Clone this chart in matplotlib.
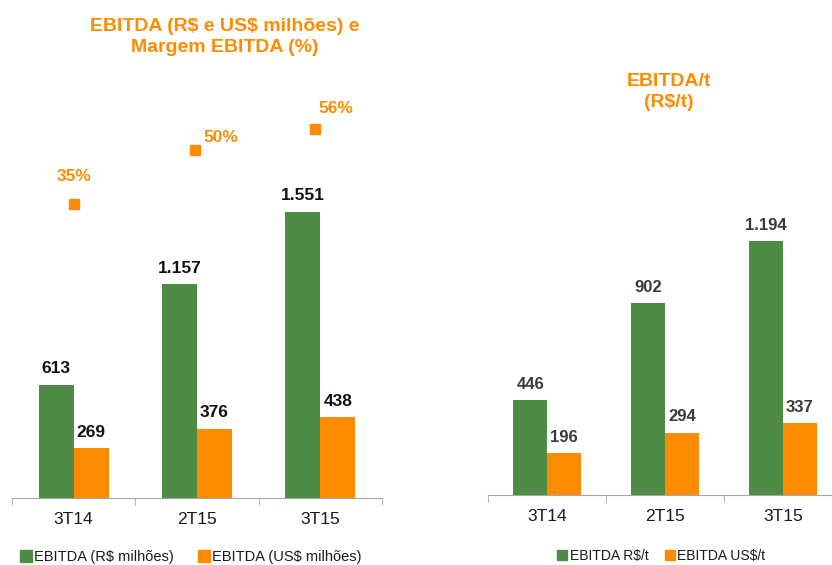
import matplotlib.pyplot as plt
from matplotlib.patches import Patch
import numpy as np

plt.rcParams['font.family'] = ['Liberation Sans', 'DejaVu Sans']
plt.rcParams['text.parse_math'] = False

# Data
quarters = ["3T14", "2T15", "3T15"]
ebitda_brl = [613, 1157, 1551]
ebitda_usd = [269, 376, 438]
margin_pct = [35, 50, 56]
ebitda_brl_t = [446, 902, 1194]
ebitda_usd_t = [196, 294, 337]

GREEN = "#4E8C46"
ORANGE = "#FF8C00"
AXIS = "#A6A6A6"
W, H = 832, 565


def fmt(v):
    return "{:,}".format(v).replace(",", ".")


def style_axis(ax):
    for s in ["left", "right", "top"]:
        ax.spines[s].set_visible(False)
    ax.spines["bottom"].set_color(AXIS)
    ax.set_yticks([])
    ax.set_xticks(range(len(quarters)))
    ax.set_xticklabels(quarters, fontsize=12.5, color="#1a1a1a")
    ax.tick_params(axis="x", which="major", length=0, pad=10)
    ax.set_xticks([-0.5, 0.5, 1.5, 2.5], minor=True)
    ax.tick_params(axis="x", which="minor", length=5, color=AXIS, direction="out")
    ax.set_xlim(-0.5, 2.5)


fig = plt.figure(figsize=(W / 100, H / 100), dpi=100)

# Left chart
ax1 = fig.add_axes([12 / W, 1 - 498 / H, 370 / W, 408 / H])
x = np.arange(len(quarters))
bw = 0.285
b1 = ax1.bar(x - bw / 2, ebitda_brl, bw, color=GREEN)
b2 = ax1.bar(x + bw / 2, ebitda_usd, bw, color=ORANGE)
ax1.set_ylim(0, 2211)
style_axis(ax1)
for bars in (b1, b2):
    for r in bars:
        ax1.annotate(fmt(int(r.get_height())), (r.get_x() + r.get_width() / 2, r.get_height()),
                     xytext=(0, 11.5), textcoords="offset points", ha="center", va="center",
                     fontsize=12.5, fontweight="bold", color="#111111")

ax1b = ax1.twinx()
ax1b.set_ylim(-48, 67)
ax1b.axis("off")
ax1b.plot(x - 0.02 * x, margin_pct, linestyle="none", marker="s", markersize=7.2, color=ORANGE)
offsets = [(0, 19.5, "center"), (6.5, 9.5, "left"), (2, 14.5, "left")]
for xi, v, (dx, dy, ha) in zip(x - 0.02 * x, margin_pct, offsets):
    ax1b.annotate(f"{v}%", (xi, v), xytext=(dx, dy), textcoords="offset points",
                  ha=ha, va="center", fontsize=12.5, fontweight="bold", color=ORANGE)

fig.text(225 / W, 1 - 37 / H, "EBITDA (R$ e US$ milhões) e\nMargem EBITDA (%)",
         ha="center", va="center", fontsize=14, fontweight="bold", color=ORANGE,
         linespacing=1.3)

fig.legend(handles=[Patch(color=GREEN, label="EBITDA (R$ milhões)"),
                    Patch(color=ORANGE, label="EBITDA (US$ milhões)")],
           loc="center left", bbox_to_anchor=(20 / W, 1 - 557 / H), ncol=2, frameon=False,
           fontsize=10.5, handlelength=0.8, handleheight=0.8, handletextpad=0.15,
           columnspacing=1.7, borderpad=0, borderaxespad=0, labelcolor="#1a1a1a")

# Right chart
ax2 = fig.add_axes([488 / W, 1 - 495 / H, 354 / W, 295 / H])
bw2 = 0.285
c1 = ax2.bar(x - bw2 / 2, ebitda_brl_t, bw2, color=GREEN)
c2 = ax2.bar(x + bw2 / 2, ebitda_usd_t, bw2, color=ORANGE)
ax2.set_ylim(0, 1388)
style_axis(ax2)
for bars in (c1, c2):
    for r in bars:
        ax2.annotate(fmt(int(r.get_height())), (r.get_x() + r.get_width() / 2, r.get_height()),
                     xytext=(0, 11.5), textcoords="offset points", ha="center", va="center",
                     fontsize=12, fontweight="bold", color="#3a3a3a")

fig.text(669 / W, 1 - 92 / H, "EBITDA/t\n(R$/t)", ha="center", va="center",
         fontsize=14, fontweight="bold", color=ORANGE, linespacing=1.3)

fig.legend(handles=[Patch(color=GREEN, label="EBITDA R$/t"),
                    Patch(color=ORANGE, label="EBITDA US$/t")],
           loc="center left", bbox_to_anchor=(557 / W, 1 - 556 / H), ncol=2, frameon=False,
           fontsize=10, handlelength=0.75, handleheight=0.75, handletextpad=0.15,
           columnspacing=1.2, borderpad=0, borderaxespad=0, labelcolor="#1a1a1a")

fig.savefig("out.png", dpi=100)
